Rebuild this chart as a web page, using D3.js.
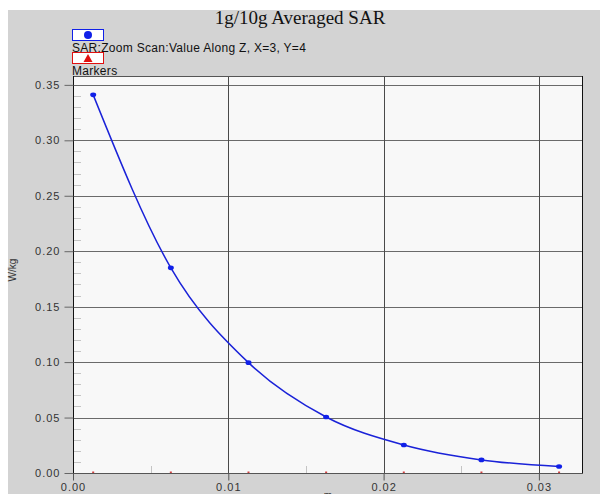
<!DOCTYPE html>
<html>
<head>
<meta charset="utf-8">
<script src="https://cdn.jsdelivr.net/npm/d3@7"></script>
<style>
  html, body { margin: 0; padding: 0; background: #ffffff; }
  svg { display: block; }
  text { font-family: "Liberation Sans", Arial, sans-serif; }
</style>
</head>
<body>
<div id="chart"></div>
<script>
// Depth along Z (m) of the zoom-scan samples
const depths = [0.0013, 0.0063, 0.0113, 0.0163, 0.0213, 0.0263, 0.0313];
// SAR value at each depth (W/kg)
const sarValues = [0.341, 0.185, 0.0995, 0.0505, 0.0253, 0.0118, 0.0058];
// Axis ticks
const xTicks = [0.00, 0.01, 0.02, 0.03];
const xMinorTicks = [0.005, 0.015, 0.025];
const yTicks = [0.00, 0.05, 0.10, 0.15, 0.20, 0.25, 0.30, 0.35];
const yMinorTicks = d3.range(0, 36).map(i => i / 100).filter((v, i) => i % 5 !== 0);
// Legend entries
const legendItems = [
  { label: "SAR;Zoom Scan:Value Along Z, X=3, Y=4", color: "#1020e8", shape: "circle" },
  { label: "Markers", color: "#e01010", shape: "triangle" }
];

const W = 600, H = 494;
const plot = { left: 73, right: 583, top: 76, bottom: 473 };

const svg = d3.select("#chart").append("svg")
  .attr("width", W).attr("height", H);

// Grey panel behind everything
svg.append("rect")
  .attr("x", 8).attr("y", 10).attr("width", W - 8).attr("height", H - 10)
  .attr("fill", "#d3d3d3");

// Title
svg.append("text")
  .attr("x", 300).attr("y", 24)
  .attr("text-anchor", "middle")
  .style("font-family", "'Liberation Serif', 'Times New Roman', serif")
  .style("font-size", "19px")
  .attr("fill", "#111")
  .text("1g/10g Averaged SAR");

// Legend
const legend = svg.append("g");
legendItems.forEach((d, i) => {
  const y0 = 29 + i * 23;
  legend.append("rect")
    .attr("x", 72.5).attr("y", y0 + 0.5)
    .attr("width", 31).attr("height", 11)
    .attr("fill", "#ffffff")
    .attr("stroke", d.color).attr("stroke-width", 1);
  if (d.shape === "circle") {
    legend.append("circle")
      .attr("cx", 88).attr("cy", y0 + 6).attr("r", 4)
      .attr("fill", d.color);
  } else {
    legend.append("path")
      .attr("d", `M${88},${y0 + 2} L${92.5},${y0 + 10} L${83.5},${y0 + 10} Z`)
      .attr("fill", d.color);
  }
  legend.append("text")
    .attr("x", 72).attr("y", y0 + 22.5)
    .style("font-size", "12px")
    .style("letter-spacing", "0.3px")
    .attr("fill", "#111")
    .text(d.label);
});

// Scales
const x = d3.scaleLinear().domain([0, 0.03284]).range([plot.left, plot.right]);
const y = d3.scaleLinear().domain([0, 0.358]).range([plot.bottom, plot.top]);

// Plot background
svg.append("rect")
  .attr("x", plot.left).attr("y", plot.top)
  .attr("width", plot.right - plot.left).attr("height", plot.bottom - plot.top)
  .attr("fill", "#f8f8f8");

// Minor ticks inside the plot
svg.append("g").selectAll("line.ym").data(yMinorTicks).join("line")
  .attr("x1", plot.left).attr("x2", plot.left + 8)
  .attr("y1", d => Math.round(y(d)) + 0.5).attr("y2", d => Math.round(y(d)) + 0.5)
  .attr("stroke", "#c4c4c4");
svg.append("g").selectAll("line.xm").data(xMinorTicks).join("line")
  .attr("x1", d => Math.round(x(d)) + 0.5).attr("x2", d => Math.round(x(d)) + 0.5)
  .attr("y1", plot.bottom).attr("y2", plot.bottom - 7)
  .attr("stroke", "#c4c4c4");

// Grid lines
svg.append("g").selectAll("line.yg").data(yTicks.filter(v => v > 0)).join("line")
  .attr("x1", plot.left).attr("x2", plot.right)
  .attr("y1", d => Math.round(y(d)) + 0.5).attr("y2", d => Math.round(y(d)) + 0.5)
  .attr("stroke", "#6a6a6a");
svg.append("g").selectAll("line.xg").data(xTicks.filter(v => v > 0)).join("line")
  .attr("x1", d => Math.round(x(d)) + 0.5).attr("x2", d => Math.round(x(d)) + 0.5)
  .attr("y1", plot.top).attr("y2", plot.bottom)
  .attr("stroke", "#4a4a4a");

// Plot frame
svg.append("line").attr("x1", plot.left).attr("x2", plot.right)
  .attr("y1", plot.top + 0.5).attr("y2", plot.top + 0.5).attr("stroke", "#555");
svg.append("line").attr("x1", plot.right - 0.5).attr("x2", plot.right - 0.5)
  .attr("y1", plot.top).attr("y2", plot.bottom).attr("stroke", "#111");

// Y axis
const yAxis = svg.append("g")
  .attr("transform", `translate(${plot.left + 0.5},0)`)
  .call(d3.axisLeft(y).tickValues(yTicks).tickFormat(d3.format(".2f")).tickSize(9).tickPadding(4));
yAxis.select(".domain").attr("stroke", "#111").attr("d", `M0,${plot.top}V${plot.bottom + 7}`);
yAxis.selectAll(".tick line").attr("stroke", "#666");
yAxis.selectAll(".tick text")
  .style("font-size", "11px").style("letter-spacing", "1px")
  .attr("fill", "#333");

// X axis
const xAxis = svg.append("g")
  .attr("transform", `translate(0,${plot.bottom + 0.5})`)
  .call(d3.axisBottom(x).tickValues(xTicks).tickFormat(d3.format(".2f")).tickSize(7).tickPadding(3));
xAxis.select(".domain").attr("stroke", "#555").attr("d", `M${plot.left},0H${plot.right}`);
xAxis.selectAll(".tick line").attr("stroke", "#555");
xAxis.selectAll(".tick text")
  .style("font-size", "11px").style("letter-spacing", "1px")
  .attr("fill", "#333");

// Red sample markers on the x axis
svg.append("g").selectAll("rect.mk").data(depths).join("rect")
  .attr("x", d => x(d) - 1).attr("y", plot.bottom - 1.5)
  .attr("width", 2).attr("height", 1.5)
  .attr("fill", "#d04040");

// Axis titles
svg.append("text")
  .attr("transform", `translate(16,270) rotate(-90)`)
  .attr("text-anchor", "middle")
  .style("font-size", "10px")
  .attr("fill", "#333")
  .text("W/kg");
svg.append("text")
  .attr("x", (plot.left + plot.right) / 2).attr("y", 499)
  .attr("text-anchor", "middle")
  .style("font-size", "10px")
  .attr("fill", "#333")
  .text("m");

// SAR curve
const pts = depths.map((d, i) => [d, sarValues[i]]);
const line = d3.line()
  .x(d => x(d[0])).y(d => y(d[1]))
  .curve(d3.curveMonotoneX);
svg.append("path")
  .datum(pts)
  .attr("d", line)
  .attr("fill", "none")
  .attr("stroke", "#1a22d8")
  .attr("stroke-width", 1.5);

svg.append("g").selectAll("ellipse").data(pts).join("ellipse")
  .attr("cx", d => x(d[0])).attr("cy", d => y(d[1]))
  .attr("rx", 3).attr("ry", 2.3)
  .attr("fill", "#1020e8");
</script>
</body>
</html>
